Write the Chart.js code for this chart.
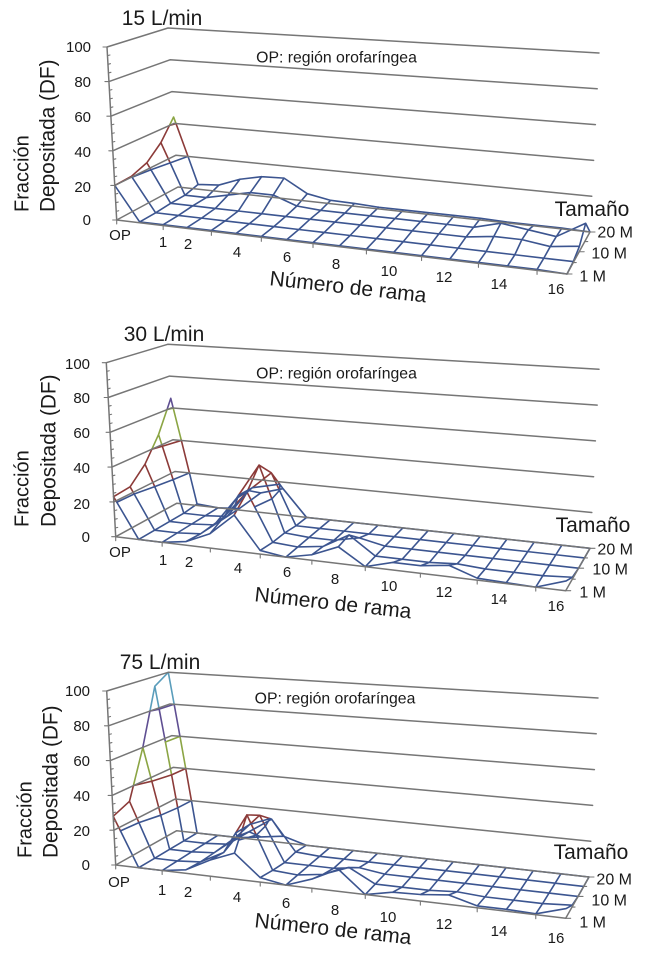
<!DOCTYPE html>
<html><head><meta charset="utf-8">
<style>html,body{margin:0;padding:0;background:#fff;width:648px;height:954px;overflow:hidden}
canvas{position:absolute;left:0;filter:blur(.3px)}</style>
<script src="https://cdn.jsdelivr.net/npm/chart.js@4"></script></head>
<body>
<canvas id="c0" width="648" height="318" style="top:0;width:648px;height:318px"></canvas>
<canvas id="c1" width="648" height="318" style="top:318px;width:648px;height:318px"></canvas>
<canvas id="c2" width="648" height="318" style="top:636px;width:648px;height:318px"></canvas>
<script>
// Categories
const branchLabels = ["OP","0","1","2","3","4","5","6","7","8","9","10","11","12","13","14","15","16"];
const shownBranches = ["OP","1","2","4","6","8","10","12","14","16"];
const sizeLabels = ["1 M","5 M","10 M","15 M","20 M"];
const shownSizes = ["1 M","10 M","20 M"];
const dfTicks = [0,20,40,60,80,100];
const flowTitles = ["15 L/min","30 L/min","75 L/min"];
const bandEdges = [20,40,60,80];
const bandColors = ["#3c5590","#8c3b39","#8ba544","#5f4f92","#5a9dbb"];

// Series values: DF per branch, one list per particle size
const df15_1M  = [20,0.5,0.5,0.5,0.5,0.5,0.5,0.5,0.5,0.5,0.5,0.5,0.5,0.5,0.5,0.5,0.5,0];
const df15_5M  = [20.5,0.5,0.5,0.5,0.5,0.5,0.5,0.5,0.5,0.5,0.5,0.5,0.5,0.5,0.5,0.5,0.5,0.5];
const df15_10M = [24,1,1,1,1,1,1,1,1,1,1,1,1,1,3,3,1,3];
const df15_15M = [32,1,1,4,7,7,2,1,1,1,1,1,1,1,5,3,1,10];
const df15_20M = [44,3,4,9,12,12.5,4.5,2,1.7,1,1,1,1,1,0.5,0.5,0.5,0];

const df30_1M  = [23,0,0,2,8,20,2,0,3,9,0,4,4,6,1,0.5,0,5];
const df30_5M  = [24,0,0,1,12,28,1,0,2,10,0,0,0,1,0,0,0,1];
const df30_10M = [33,0,0,1,18,39,1,0,0,3,0,0,0,0,0,0,0,0];
const df30_15M = [47,0,0,1,18,30,0,0,0,0,0,0,0,0,0,0,0,0];
const df30_20M = [66,1,0,1,12,16,0,0,0,0,0,0,0,0,0,0,0,0];

const df75_1M  = [28,0,0,2,9,14.5,2.5,0,5,12,0,3,3.5,5,1,1,0.5,5];
const df75_5M  = [32,0,0,1,8,31,1,0,2,7.5,0,0,0,1,0,0,0,1];
const df75_10M = [60,0,0,1,12,26,0,0,0,2,0,0,0,0,0,0,0,0];
const df75_15M = [94,0,0,1,10,19,1,0,0,0,0,0,0,0,0,0,0,0];
const df75_20M = [100,0,0,0,2,4,0,0,0,0,0,0,0,0,0,0,0,0];

const tables = [
 [df15_1M,df15_5M,df15_10M,df15_15M,df15_20M],
 [df30_1M,df30_5M,df30_10M,df30_15M,df30_20M],
 [df75_1M,df75_5M,df75_10M,df75_15M,df75_20M]];

// Projection frames of the three 3D boxes (page pixels): floor corners and height vectors for DF=100
const frames = [
 {top:0,  f:[116.7,220],  r:[567,274],    b:[178,187],    c:[590,232],  fh:[-9.7,-173],bh:[-10,-159], rh:[9,-195],ch:[9,-179]},
 {top:318,f:[115.7,536.7],r:[565.7,590.7],b:[176.7,503.3],c:[590,548.3],fh:[-9.4,-174],bh:[-9,-159],  rh:[9,-195],ch:[9,-179]},
 {top:636,f:[115.7,865],  r:[565.7,918.3],b:[176.7,830.7],c:[589,877],  fh:[-9,-174],  bh:[-8.4,-158.4],rh:[9,-195],ch:[9,-179]}];

// Text layout per panel
const layouts = [
 {title:[162,19],op:[336.5,58],zx:91,zy:[221,188,153,118,83,48],fr:[23,212],de:[49,212],
  bx:[120,163,188,237,287,336,389,444,499,556],by:[236,243,245,253,258,265,272,278,285,290],
  nr:[348,288],tam:[592,210],sx:[606,627,633],sy:[277,254,233]},
 {title:[164,335],op:[336.5,374],zx:90,zy:[538,505,469,434,399,365],fr:[23,527],de:[50,527],
  bx:[120,163,189,238,287,335,389,444,499,556],by:[553,561,563,569,573,580,587,593,600,607],
  nr:[333,604],tam:[593,526],sx:[606,628,633],sy:[593,570,550]},
 {title:[160,663],op:[335,699],zx:90,zy:[866,832,797,762,727,692],fr:[26,858],de:[52,858],
  bx:[119,162,188,237,286,335,388,444,499,556],by:[883,891,893,898,904,911,918,925,932,939],
  nr:[333,930],tam:[591,853],sx:[606,627,632],sy:[923,901,880]}];

const lerp=(a,b,t)=>a+(b-a)*t;
function proj(fr,i,w,z){
  const v=w+.12*w*(1-w);
  const k=lerp(.0095,.012,v);
  const u=i*(1+k*i)/(17*(1+17*k));
  const bil=(p,q,r,s,n)=>lerp(lerp(fr[p][n],fr[q][n],u),lerp(fr[r][n],fr[s][n],u),v);
  return {x:bil('f','r','b','c',0)+bil('fh','rh','bh','ch',0)*z/100,
          y:bil('f','r','b','c',1)+bil('fh','rh','bh','ch',1)*z/100};
}
const BR={x:NaN,y:NaN};
function bandOf(z){let b=0;while(b<bandEdges.length&&z>=bandEdges[b])b++;return b;}

function buildWires(tbl,fr){
  const nC=branchLabels.length,nR=sizeLabels.length;
  const sets=bandColors.map(()=>[]);
  const P=(i,r,z)=>proj(fr,i,r/(nR-1),z);
  function seg(i0,r0,z0,i1,r1,z1){
    const cuts=[0];
    bandEdges.forEach(e=>{if((z0-e)*(z1-e)<0)cuts.push((e-z0)/(z1-z0));});
    cuts.push(1);cuts.sort((a,b)=>a-b);
    for(let c=0;c<cuts.length-1;c++){
      const a=cuts[c],b=cuts[c+1],m=lerp(z0,z1,(a+b)/2),s=sets[bandOf(m)];
      s.push(P(lerp(i0,i1,a),lerp(r0,r1,a),lerp(z0,z1,a)),P(lerp(i0,i1,b),lerp(r0,r1,b),lerp(z0,z1,b)),BR);
    }
  }
  for(let r=0;r<nR;r++)for(let i=0;i<nC;i++){
    if(i<nC-1)seg(i,r,tbl[r][i],i+1,r,tbl[r][i+1]);
    if(r<nR-1)seg(i,r,tbl[r][i],i,r+1,tbl[r+1][i]);
  }
  bandEdges.forEach((e,b)=>{
    for(let r=0;r<nR-1;r++)for(let i=0;i<nC-1;i++){
      const c=[[i,r],[i+1,r],[i+1,r+1],[i,r+1]],pts=[];
      for(let k=0;k<4;k++){
        const A=c[k],B=c[(k+1)%4],za=tbl[A[1]][A[0]],zb=tbl[B[1]][B[0]];
        if((za-e)*(zb-e)<0){const t=(e-za)/(zb-za);pts.push(P(lerp(A[0],B[0],t),lerp(A[1],B[1],t),e));}
      }
      for(let k=0;k+1<pts.length;k+=2)sets[b].push(pts[k],pts[k+1],BR);
    }
  });
  return sets;
}

function buildFrame(fr){
  const g=[];
  dfTicks.forEach(z=>{g.push(proj(fr,0,0,z),proj(fr,0,1,z),proj(fr,17,1,z),BR);});
  g.push(proj(fr,0,0,0),proj(fr,0,0,100),BR);
  g.push(proj(fr,0,0,0),proj(fr,17,0,0),proj(fr,17,1,0),BR);
  return g;
}
function buildTicks(fr){
  const t=[],n=sizeLabels.length;
  for(let z=0;z<=100;z+=5){
    const p=proj(fr,0,0,z),len=z%20===0?0:2.5;
    if(len)t.push(p,{x:p.x+len,y:p.y-len*.25},BR);
  }
  dfTicks.forEach(z=>{const p=proj(fr,0,0,z);t.push(p,{x:p.x-4,y:p.y},BR);});
  for(let i=0;i<=16;i+=2){const p=proj(fr,i,0,0);t.push(p,{x:p.x,y:p.y+4},BR);}
  for(let r=0;r<n;r++){const p=proj(fr,17,r/(n-1),0);t.push(p,{x:p.x+(r%2?3:5),y:p.y},BR);}
  return t;
}

const FONT='"Liberation Sans", Arial, sans-serif';
function textPlugin(L,fr,idx){return {id:'labels'+idx,afterDraw(ch){
  const c=ch.ctx,oy=fr.top;
  const put=(s,x,y,size,al,rot)=>{c.save();c.translate(x,y-oy);if(rot)c.rotate(rot);c.font=size+'px '+FONT;c.fillStyle='#1a1a1a';c.textAlign=al;c.textBaseline='middle';c.fillText(s,0,0);c.restore();};
  put(flowTitles[idx],L.title[0],L.title[1],21,'center');
  put('OP: región orofaríngea',L.op[0],L.op[1],15.8,'center');
  dfTicks.forEach((z,k)=>put(String(z),L.zx,L.zy[k],15,'right'));
  put('Fracción',L.fr[0],L.fr[1],20,'left',-Math.PI/2);
  put('Depositada (DF)',L.de[0],L.de[1],20.8,'left',-Math.PI/2);
  shownBranches.forEach((s,k)=>put(s,L.bx[k],L.by[k],15,'center'));
  put('Número de rama',L.nr[0],L.nr[1],21,'center',0.11);
  put('Tamaño',L.tam[0],L.tam[1],21,'center');
  shownSizes.forEach((s,k)=>put(s,L.sx[k],L.sy[k],16,'right'));
}};}

frames.forEach((fr,idx)=>{
  const wires=buildWires(tables[idx],fr);
  const ds=[
   {data:buildFrame(fr),borderColor:'#767676',borderWidth:1.5},
   {data:buildTicks(fr),borderColor:'#767676',borderWidth:1.1}];
  wires.forEach((w,b)=>ds.push({data:w,borderColor:bandColors[b],borderWidth:1.6}));
  ds.forEach(d=>{d.showLine=true;d.pointRadius=0;d.spanGaps=false;d.fill=false;d.tension=0;d.borderCapStyle='round';d.borderJoinStyle='round';});
  new Chart(document.getElementById('c'+idx),{
    type:'scatter',
    data:{datasets:ds},
    options:{responsive:false,animation:false,devicePixelRatio:2,
      layout:{padding:0},
      plugins:{legend:{display:false},tooltip:{enabled:false},title:{display:false}},
      scales:{x:{type:'linear',display:false,min:0,max:648},
              y:{type:'linear',display:false,min:fr.top,max:fr.top+318,reverse:true}}},
    plugins:[textPlugin(layouts[idx],fr,idx)]
  });
});
</script></body></html>
